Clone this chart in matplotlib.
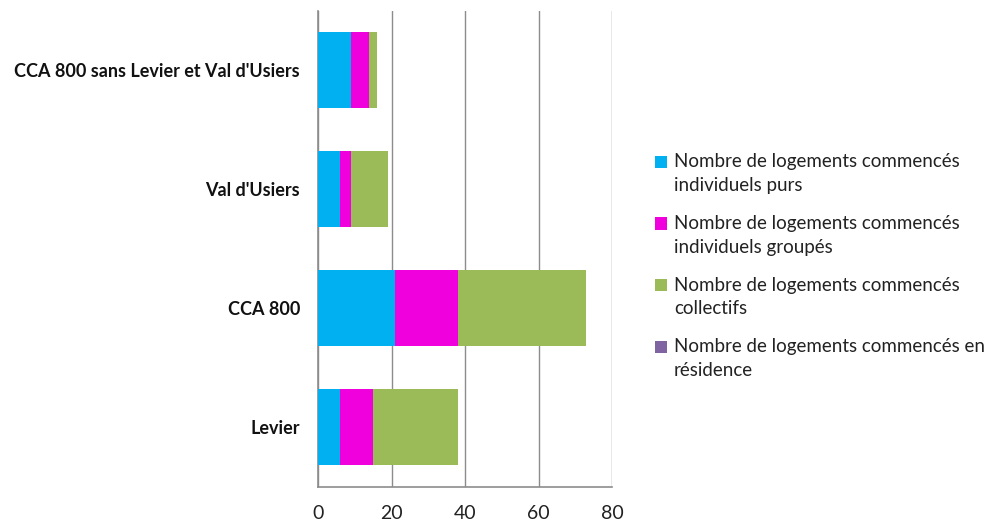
import matplotlib
matplotlib.use("Agg")
import matplotlib.pyplot as plt
from matplotlib.patches import Rectangle
import numpy as np

plt.rcParams['font.family'] = ['Lato', 'DejaVu Sans']

categories = ["Levier", "CCA 800", "Val d'Usiers", "CCA 800 sans Levier et Val d'Usiers"]
individuels_purs = [6, 21, 6, 9]
individuels_groupes = [9, 17, 3, 5]
collectifs = [23, 35, 10, 2]
residence = [0, 0, 0, 0]

series_labels = [
    ["Nombre de logements commencés", "individuels purs"],
    ["Nombre de logements commencés", "individuels groupés"],
    ["Nombre de logements commencés", "collectifs"],
    ["Nombre de logements commencés en", "résidence"],
]
colors = ["#00B0F0", "#F000DC", "#9BBB59", "#8064A2"]
xticks = [0, 20, 40, 60, 80]

W, H = 986, 525
fig = plt.figure(figsize=(W / 100, H / 100), dpi=100)
ax = fig.add_axes([318 / W, 1 - 486.5 / H, (612 - 318) / W, (486.5 - 11) / H])

y = np.arange(len(categories))
left = np.zeros(len(categories))
for vals, lab, col in zip([individuels_purs, individuels_groupes, collectifs, residence],
                          series_labels, colors):
    ax.barh(y, vals, left=left, height=0.64, color=col, label=" ".join(lab),
            edgecolor='none', zorder=3)
    left += np.array(vals)

ax.set_xlim(0, 80)
ax.set_ylim(-0.5, len(categories) - 0.5)
ax.set_xticks(xticks)
ax.set_yticks(y)
ax.set_yticklabels(categories, fontsize=13, fontweight='bold')
ax.tick_params(axis='x', length=0, pad=13, labelsize=14, labelcolor='#222222')
ax.tick_params(axis='y', length=0, pad=13, labelcolor='#111111')
ax.grid(axis='x', color='#8C8C8C', linewidth=1, zorder=0)
for s in ['top', 'right']:
    ax.spines[s].set_visible(False)
for s in ['left', 'bottom']:
    ax.spines[s].set_color('#8C8C8C')
    ax.spines[s].set_linewidth(1.2)

# Legend: square swatch beside the first line of each two-line entry
entry_top = 162
entry_step = 61.5
line_gap = 23.5
for i, (lines, col) in enumerate(zip(series_labels, colors)):
    yc = entry_top + i * entry_step
    fig.patches.append(Rectangle((655 / W, 1 - (yc + 6) / H), 12 / W, 12 / H,
                                 transform=fig.transFigure, facecolor=col,
                                 edgecolor='none'))
    for j, line in enumerate(lines):
        fig.text(674 / W, 1 - (yc + j * line_gap) / H, line, fontsize=13.5,
                 color='#222222', va='center', ha='left')

fig.savefig("out.png", dpi=100)
